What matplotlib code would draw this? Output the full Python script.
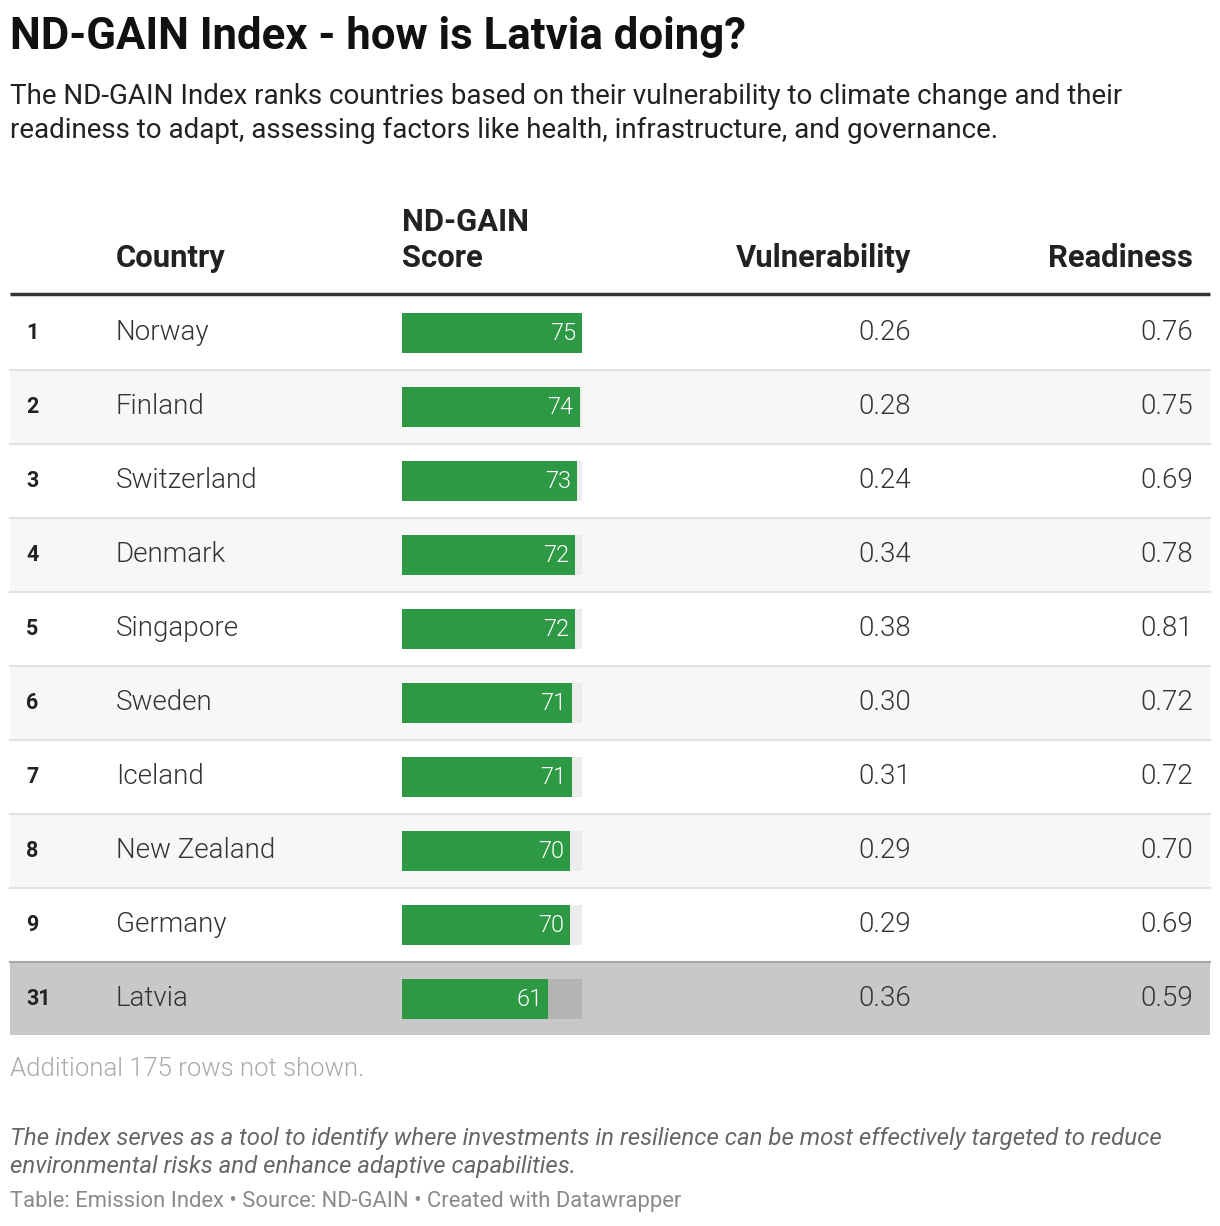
import matplotlib
matplotlib.use("Agg")
import matplotlib.pyplot as plt
from matplotlib.patches import Rectangle

plt.rcParams['font.family'] = ['Roboto', 'DejaVu Sans']

ranks = ["1", "2", "3", "4", "5", "6", "7", "8", "9", "31"]
countries = ["Norway", "Finland", "Switzerland", "Denmark", "Singapore",
             "Sweden", "Iceland", "New Zealand", "Germany", "Latvia"]
scores = [75, 74, 73, 72, 72, 71, 71, 70, 70, 61]
vulnerability = [0.26, 0.28, 0.24, 0.34, 0.38, 0.30, 0.31, 0.29, 0.29, 0.36]
readiness = [0.76, 0.75, 0.69, 0.78, 0.81, 0.72, 0.72, 0.70, 0.69, 0.59]
highlight = "Latvia"
score_max = 75

W, H = 1220, 1226
fig = plt.figure(figsize=(W / 100, H / 100), dpi=100)
ax = fig.add_axes([0, 0, 1, 1])
ax.set_xlim(0, W)
ax.set_ylim(H, 0)
ax.axis('off')

green = "#2e9944"
body = dict(fontsize=20, fontweight=300, color="#333333", va='center')

# title and subtitle
ax.text(10, 37, "ND-GAIN Index - how is Latvia doing?", fontsize=31.5, fontweight='bold',
        color="#111111", va='center')
ax.text(10, 97, "The ND-GAIN Index ranks countries based on their vulnerability to climate change and their",
        fontsize=20, color="#222222", va='center')
ax.text(10, 130, "readiness to adapt, assessing factors like health, infrastructure, and governance.",
        fontsize=20, color="#222222", va='center')

# header
hdr = dict(fontsize=22.3, fontweight='bold', color="#222222", va='center')
ax.text(116, 258, "Country", **hdr)
ax.text(402, 222, "ND-GAIN", **hdr)
ax.text(402, 258, "Score", **hdr)
ax.text(911, 258, "Vulnerability", ha='right', **hdr)
ax.text(1193, 258, "Readiness", ha='right', **hdr)
ax.plot([10, 1210], [294, 294], color="#333333", lw=2.5, solid_capstyle='butt')

row_top = 296
row_h = 74
bar_x0, bar_w, bar_h = 402, 180, 40

for i, (rk, c, s, v, r) in enumerate(zip(ranks, countries, scores, vulnerability, readiness)):
    top = row_top + i * row_h
    cy = top + row_h / 2
    if c == highlight:
        ax.add_patch(Rectangle((10, top), 1200, row_h - 1, color="#c8c8c8", lw=0, zorder=0))
        ax.plot([10, 1210], [top, top], color="#a8a8a8", lw=1.5, zorder=1)
        bg = "#b4b4b4"
    else:
        if i % 2 == 1:
            ax.add_patch(Rectangle((10, top), 1200, row_h, color="#f7f7f7", lw=0, zorder=0))
        if i > 0:
            ax.plot([10, 1210], [top, top], color="#e2e2e2", lw=1.5, zorder=1)
        bg = "#ececec"
    ax.add_patch(Rectangle((bar_x0, cy - bar_h / 2), bar_w, bar_h, color=bg, lw=0, zorder=2))
    bw = bar_w * s / score_max
    ax.add_patch(Rectangle((bar_x0, cy - bar_h / 2), bw, bar_h, color=green, lw=0, zorder=3))
    ax.text(bar_x0 + bw - 6, cy, str(s), fontsize=17, color="white", fontweight=300,
            ha='right', va='center', zorder=4)
    ax.text(26, cy, rk, fontsize=15.5, fontweight='bold', color="#222222", va='center')
    ax.text(116, cy, c, **body)
    ax.text(911, cy, f"{v:.2f}", ha='right', **body)
    ax.text(1193, cy, f"{r:.2f}", ha='right', **body)

ax.text(10, 1069, "Additional 175 rows not shown.", fontsize=18.5, fontweight=300,
        color="#aaaaaa", va='center')
ax.text(10, 1138, "The index serves as a tool to identify where investments in resilience can be most effectively targeted to reduce",
        fontsize=17.3, style='italic', color="#666666", va='center')
ax.text(10, 1166, "environmental risks and enhance adaptive capabilities.",
        fontsize=17.3, style='italic', color="#666666", va='center')
ax.text(10, 1202, "Table: Emission Index \u2022 Source: ND-GAIN \u2022 Created with Datawrapper",
        fontsize=15.8, color="#8a8a8a", va='center')

fig.savefig("out.png", dpi=100)
